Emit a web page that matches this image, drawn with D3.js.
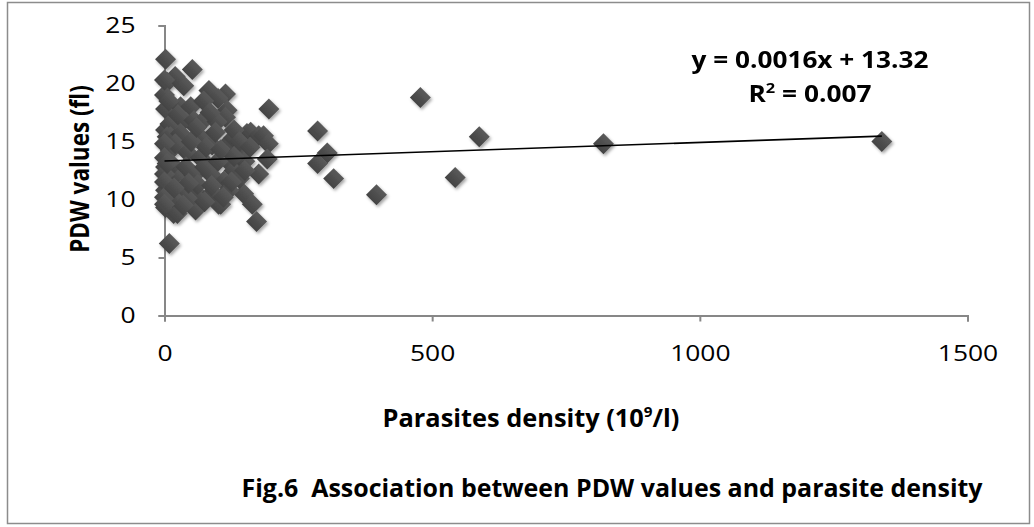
<!DOCTYPE html>
<html>
<head>
<meta charset="utf-8">
<script src="https://cdn.jsdelivr.net/npm/d3@7"></script>
<style>
  html, body { margin: 0; padding: 0; background: #fff; }
  svg { display: block; }
  text { font-family: "Open Sans", "Liberation Sans", sans-serif; fill: #000; }
</style>
</head>
<body>
<svg id="chart" width="1034" height="527"></svg>
<script>
// ---- data ----
const density = [2,52,5,36,20,83,114,100,2,30,49,73,117,195,114,2,36,55,70,98,10,5,11,30,64,73,89,120,129,154,161,176,185,194,192,176,11,42,67,123,2,24,55,86,111,123,2,30,61,101,105,2,17,24,58,148,164,172,9,286,304,286,316,396,543,588,478,820,1340,15,40,75,100,130,140,120,90,45,75,15,35,110,20,50,78,105,140,150,60,95,130,25,85,0,8,0,0,0,0,0,5,140,160,130,125,62,88,45,18,0,0,150];
const pdw     = [22.1,21.2,20.1,19.8,20.6,19.4,19.1,18.7,17.8,18.0,18.0,18.5,17.7,17.8,17.1,16.0,16.8,16.8,16.7,16.7,16.5,15.4,15.4,15.7,15.4,15.1,14.7,14.9,15.3,15.7,15.8,15.5,15.5,14.8,13.5,12.2,14.2,14.1,13.6,13.1,12.8,11.9,12.1,12.2,11.6,11.4,10.8,10.8,10.5,9.6,9.6,9.3,8.8,8.8,9.1,10.5,9.6,8.1,6.2,15.9,14.0,13.1,11.8,10.4,11.9,15.4,18.8,14.8,15.0,13.0,12.8,12.8,13.3,12.5,11.8,10.8,10.6,10.0,9.8,10.2,9.5,10.2,14.8,15.0,14.5,14.3,14.2,13.3,16.2,15.8,16.0,17.3,17.5,19.0,18.5,14.8,13.6,12.2,11.5,10.2,13.1,15.0,14.5,13.7,11.5,11.3,11.2,11.4,11.0,20.3,9.6,12.5];
const xTicks = [0, 500, 1000, 1500];
const yTicks = [0, 5, 10, 15, 20, 25];
const trendSlope = 0.0016;
const trendIntercept = 13.32;
const equationText = "y = 0.0016x + 13.32";
const rSquaredText = "0.007";
const yTitle = "PDW values (fl)";
const xTitle = "Parasites density (10";
const figTitle = "Fig.6  Association between PDW values and parasite density";

// ---- layout ----
const svg = d3.select("#chart");
const axisColor = "#878787";

svg.append("rect")
  .attr("x", 7.5).attr("y", 2.5).attr("width", 1022).attr("height", 521)
  .attr("fill", "#fff").attr("stroke", "#8c8c8c").attr("stroke-width", 1.5);

const x = d3.scaleLinear().domain([0, 1500]).range([164.5, 967.5]);
const y = d3.scaleLinear().domain([0, 25]).range([315.5, 25.5]);

const defs = svg.append("defs");
const f = defs.append("filter").attr("id", "shadow")
  .attr("x", "-50%").attr("y", "-50%").attr("width", "200%").attr("height", "200%");
f.append("feDropShadow").attr("dx", 1.5).attr("dy", 2).attr("stdDeviation", 1.6)
  .attr("flood-color", "#000").attr("flood-opacity", 0.35);
const grad = defs.append("linearGradient").attr("id", "mk")
  .attr("x1", 0).attr("y1", 0).attr("x2", 0).attr("y2", 1);
grad.append("stop").attr("offset", "0%").attr("stop-color", "#5a5a5a");
grad.append("stop").attr("offset", "100%").attr("stop-color", "#434343");

// helper: horizontally stretch a text inside a group
function stretchTo(g, target) {
  const t = g.select("text").node();
  const w = t.getBBox().width;
  const sx = target / w;
  g.select("text").attr("transform", `scale(${sx},1)`);
}

// axes
const xAxis = svg.append("g").attr("transform", `translate(0,${y(0)})`)
  .call(d3.axisBottom(x).tickValues(xTicks).tickSize(6).tickPadding(24).tickFormat(d3.format("d")));
const yAxis = svg.append("g").attr("transform", `translate(${x(0)},0)`)
  .call(d3.axisLeft(y).tickValues(yTicks).tickSize(6).tickPadding(23).tickFormat(d3.format("d")));
[xAxis, yAxis].forEach(a => {
  a.selectAll("path, line").attr("stroke", axisColor).attr("stroke-width", 2);
  a.selectAll("text").attr("font-size", 22).attr("fill", "#000")
    .style("font-family", '"Open Sans", sans-serif');
  a.selectAll(".tick text").each(function() {
    const w = this.getComputedTextLength();
    d3.select(this).attr("textLength", w * 1.2).attr("lengthAdjust", "spacingAndGlyphs");
  });
});

// points
const pts = d3.range(density.length).map(i => ({ x: density[i], y: pdw[i] }));
const sym = d3.symbol().type(d3.symbolSquare).size(220);
svg.append("g").attr("filter", "url(#shadow)")
  .selectAll("path").data(pts).join("path")
  .attr("d", sym)
  .attr("transform", d => `translate(${x(d.x)},${y(d.y)}) rotate(45)`)
  .attr("fill", "url(#mk)");

// trendline
const xMax = d3.max(density);
const line = d3.line().x(d => x(d)).y(d => y(trendSlope * d + trendIntercept));
svg.append("path").datum([0, xMax]).attr("d", line)
  .attr("fill", "none").attr("stroke", "#000").attr("stroke-width", 1.6);

// equation
const eq1 = svg.append("g").attr("transform", "translate(810,68)");
eq1.append("text").attr("text-anchor", "middle").attr("font-size", 24).attr("font-weight", "bold").text(equationText);
stretchTo(eq1, 237);
const eq2 = svg.append("g").attr("transform", "translate(810,102)");
const t2 = eq2.append("text").attr("text-anchor", "middle").attr("font-size", 24).attr("font-weight", "bold");
t2.append("tspan").text("R");
t2.append("tspan").text("2").attr("font-size", 15).attr("dy", -9);
t2.append("tspan").text(" = " + rSquaredText).attr("dy", 9);
stretchTo(eq2, 123);

// y title
const yt = svg.append("g").attr("transform", "translate(89,169) scale(1.2,1) rotate(-90)");
yt.append("text").attr("text-anchor", "middle").attr("font-size", 22.5).attr("font-weight", "bold").text(yTitle);

// x title
const xt = svg.append("g").attr("transform", "translate(531,427)");
const xtt = xt.append("text").attr("text-anchor", "middle").attr("font-size", 25).attr("font-weight", "bold");
xtt.append("tspan").text(xTitle);
xtt.append("tspan").text("9").attr("font-size", 15).attr("dy", -10);
xtt.append("tspan").text("/l)").attr("dy", 10);
stretchTo(xt, 297);

// figure title
const ft = svg.append("g").attr("transform", "translate(612,497)");
ft.append("text").attr("text-anchor", "middle").attr("font-size", 25).attr("font-weight", "bold")
  .attr("xml:space", "preserve").style("white-space", "pre").text(figTitle);
stretchTo(ft, 742);
</script>
</body>
</html>
